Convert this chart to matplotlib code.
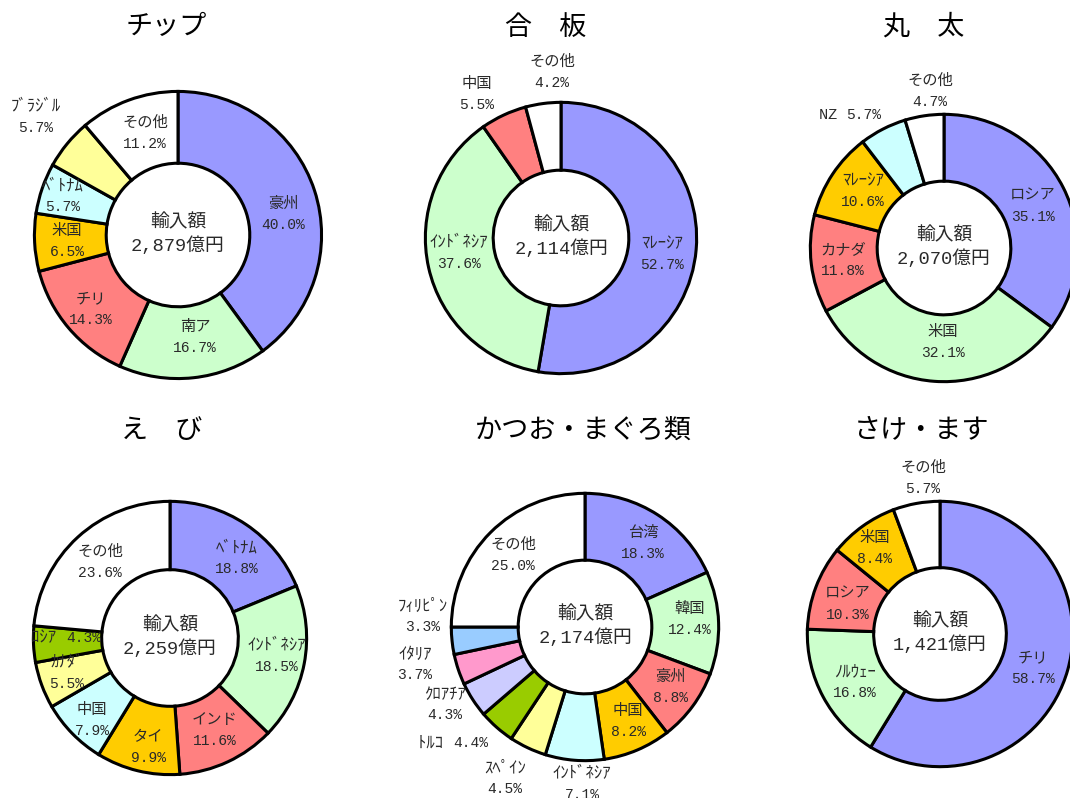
import matplotlib
matplotlib.use('Agg')
import matplotlib.pyplot as plt

W, H = 1070, 798

# ---------------- data ----------------
chip_names = ['豪州', '南ア', 'チリ', '米国', 'ﾍﾞﾄﾅﾑ', 'ﾌﾞﾗｼﾞﾙ', 'その他']
chip_values = [40.0, 16.7, 14.3, 6.5, 5.7, 5.7, 11.2]
chip_total = '2,879'

plywood_names = ['ﾏﾚｰｼｱ', 'ｲﾝﾄﾞﾈｼｱ', '中国', 'その他']
plywood_values = [52.7, 37.6, 5.5, 4.2]
plywood_total = '2,114'

log_names = ['ロシア', '米国', 'カナダ', 'ﾏﾚｰｼｱ', 'NZ', 'その他']
log_values = [35.1, 32.1, 11.8, 10.6, 5.7, 4.7]
log_total = '2,070'

shrimp_names = ['ﾍﾞﾄﾅﾑ', 'ｲﾝﾄﾞﾈｼｱ', 'インド', 'タイ', '中国', 'ｶﾅﾀﾞ', 'ﾛｼｱ', 'その他']
shrimp_values = [18.8, 18.5, 11.6, 9.9, 7.9, 5.5, 4.3, 23.6]
shrimp_total = '2,259'

tuna_names = ['台湾', '韓国', '豪州', '中国', 'ｲﾝﾄﾞﾈｼｱ', 'ｽﾍﾟｲﾝ', 'ﾄﾙｺ', 'ｸﾛｱﾁｱ',
              'ｲﾀﾘｱ', 'ﾌｨﾘﾋﾟﾝ', 'その他']
tuna_values = [18.3, 12.4, 8.8, 8.2, 7.1, 4.5, 4.4, 4.3, 3.7, 3.3, 25.0]
tuna_total = '2,174'

salmon_names = ['チリ', 'ﾉﾙｳｪｰ', 'ロシア', '米国', 'その他']
salmon_values = [58.7, 16.8, 10.3, 8.4, 5.7]
salmon_total = '1,421'

titles = ['チップ', '合　板', '丸　太', 'え　び', 'かつお・まぐろ類', 'さけ・ます']

palette = ['#9999FF', '#CCFFCC', '#FF8080', '#FFCC00', '#CCFFFF', '#FFFF99',
           '#99CC00', '#CCCCFF', '#FF99CC', '#99CCFF']

# ---------------- layout (pixels) ----------------
# pie centre x, centre y, radius
pie_geom = [(178, 235, 145), (561, 238, 137), (944, 248, 135),
            (170, 638, 138), (585, 627, 135), (940, 634, 134)]
title_pos = [(166, 26), (546, 27), (924, 27), (162, 431), (583, 430), (921, 430)]
# label centres (pixels)
label_pos = [
    [(283, 214), (195, 337), (91, 309), (67, 241), (63, 196), (36, 117), (145, 133)],
    [(662, 254), (459, 253), (477, 94), (552, 72)],
    [(1033, 206), (943, 342), (843, 260), (863, 191), (846, 115), (930, 91)],
    [(237, 558), (277, 656), (215, 730), (148, 747), (92, 720), (67, 673), (66, 638), (100, 562)],
    [(643, 543), (690, 619), (670, 687), (628, 721), (582, 784), (505, 778), (453, 743),
     (445, 704), (415, 664), (423, 616), (513, 555)],
    [(1033, 668), (855, 682), (848, 604), (875, 548), (923, 478)],
]
single_line = {(2, 4), (3, 6), (4, 6)}

charts = [
    (chip_names, chip_values, chip_total),
    (plywood_names, plywood_values, plywood_total),
    (log_names, log_values, log_total),
    (shrimp_names, shrimp_values, shrimp_total),
    (tuna_names, tuna_values, tuna_total),
    (salmon_names, salmon_values, salmon_total),
]

FAM = ['Liberation Mono', 'Noto Sans CJK JP']
TCOL = '#2a2a2a'

fig = plt.figure(figsize=(W / 100, H / 100), dpi=100)
fig.patch.set_facecolor('white')


def fx(x):
    return x / W


def fy(y):
    return 1 - y / H


for ci, ((names, values, total), (cx, cy, r)) in enumerate(zip(charts, pie_geom)):
    ax = fig.add_axes([fx(cx - r), fy(cy + r), 2 * r / W, 2 * r / H])
    ax.axis('off')
    colors = ['white' if n == 'その他' else palette[i % len(palette)]
              for i, n in enumerate(names)]
    ax.pie(values, colors=colors, startangle=90, counterclock=False, radius=1.0,
           wedgeprops=dict(width=0.5, edgecolor='black', linewidth=2.2),
           normalize=True, frame=False)
    ax.set_xlim(-1.01, 1.01)
    ax.set_ylim(-1.01, 1.01)
    ax.set_aspect('equal')
    # centre text
    fig.text(fx(cx), fy(cy - 12), '輸入額', family=FAM, fontsize=13.5,
             ha='center', va='center', color=TCOL)
    fig.text(fx(cx), fy(cy + 11), f'{total}億円', family=FAM, fontsize=13.5,
             ha='center', va='center', color=TCOL)
    # title
    tx, ty = title_pos[ci]
    fig.text(fx(tx), fy(ty), titles[ci], family=['Noto Sans CJK JP'], fontsize=19.5,
             fontweight='normal', ha='center', va='center', color='black')
    # labels
    for li, (n, v) in enumerate(zip(names, values)):
        lx, ly = label_pos[ci][li]
        half = all('\uff61' <= ch <= '\uff9f' for ch in n)
        nsize = 12 if half else 11
        if (ci, li) in single_line:
            fig.text(fx(lx), fy(ly), f'{n} ', family=FAM, fontsize=nsize,
                     ha='right', va='center', color=TCOL)
            fig.text(fx(lx), fy(ly), f'{v:.1f}%', family=FAM, fontsize=10.5,
                     ha='left', va='center', color=TCOL)
        else:
            fig.text(fx(lx), fy(ly - 10), n, family=FAM, fontsize=nsize,
                     ha='center', va='center', color=TCOL)
            fig.text(fx(lx), fy(ly + 11), f'{v:.1f}%', family=FAM, fontsize=10.5,
                     ha='center', va='center', color=TCOL)

fig.savefig('out.png', dpi=100, facecolor='white')
